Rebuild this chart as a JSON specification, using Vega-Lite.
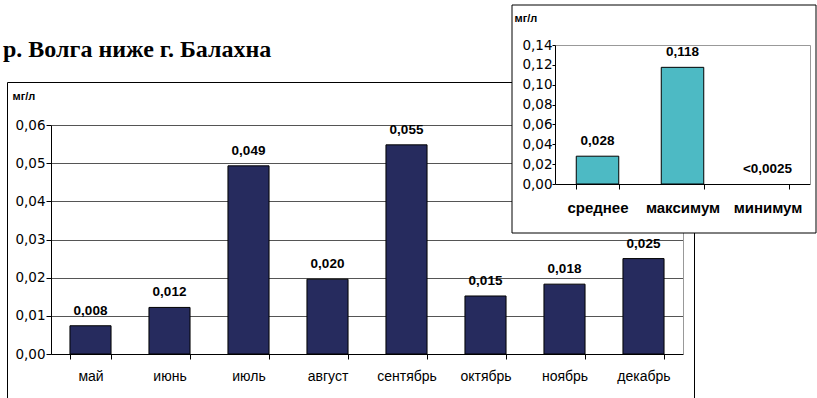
{
  "$schema": "https://vega.github.io/schema/vega-lite/v6.json",
  "background": "white",
  "autosize": {"type": "none"},
  "padding": {"left": 7, "top": 82, "right": 123, "bottom": 0},
  "width": 687,
  "height": 320,
  "config": {
    "locale": {"number": {"decimal": ",", "thousands": " ", "grouping": [3], "currency": ["", ""]}},
    "view": {"stroke": "black", "strokeWidth": 1, "fill": "white"},
    "axis": {"labelColor": "black", "titleColor": "black", "domainColor": "black", "tickColor": "black", "labelFont": "Liberation Sans", "titleFont": "Liberation Sans"}
  },
  "title": {
    "text": "р. Волга ниже г. Балахна",
    "anchor": "start",
    "frame": "group",
    "font": "Liberation Serif",
    "fontSize": 24,
    "fontWeight": "bold",
    "color": "black",
    "baseline": "alphabetic",
    "offset": -76,
    "dx": -4
  },
  "datasets": {
    "months": [
      {"month": "май", "value": 0.0074, "label": "0,008"},
      {"month": "июнь", "value": 0.0122, "label": "0,012"},
      {"month": "июль", "value": 0.0493, "label": "0,049"},
      {"month": "август", "value": 0.0196, "label": "0,020"},
      {"month": "сентябрь", "value": 0.0548, "label": "0,055"},
      {"month": "октябрь", "value": 0.0152, "label": "0,015"},
      {"month": "ноябрь", "value": 0.0183, "label": "0,018"},
      {"month": "декабрь", "value": 0.025, "label": "0,025"}
    ],
    "stats": [
      {"stat": "среднее", "value": 0.028, "label": "0,028"},
      {"stat": "максимум", "value": 0.1175, "label": "0,118"},
      {"stat": "минимум", "value": 0, "label": "<0,0025"}
    ],
    "panel": [
      {"panel": "среднее, максимум, минимум"}
    ]
  },
  "layer": [
    {
      "data": {"name": "months"},
      "mark": {"type": "bar", "fill": "#262B5E", "stroke": "black", "strokeWidth": 1},
      "encoding": {
        "x": {
          "field": "month", "type": "nominal", "sort": null,
          "scale": {"range": [44, 676], "paddingInner": 0.48, "paddingOuter": 0.24},
          "axis": {
            "orient": "bottom", "offset": -48, "title": null, "labelAngle": 0,
            "tickSize": 5, "tickBand": "extent", "labelFontSize": 14, "labelPadding": 10,
            "grid": false
          }
        },
        "y": {
          "field": "value", "type": "quantitative",
          "scale": {"domain": [0, 0.06], "range": [272, 43], "nice": false, "zero": true},
          "axis": {
            "orient": "left", "offset": -44,
            "values": [0, 0.01, 0.02, 0.03, 0.04, 0.05, 0.06],
            "format": ".2f", "tickSize": 5, "labelFont": "DejaVu Sans", "labelFontSize": 13.5, "labelPadding": 1,
            "grid": true, "gridColor": "#555", "gridWidth": 1,
            "title": "мг/л", "titleAngle": 0, "titleX": -39, "titleY": 14,
            "titleAlign": "left", "titleBaseline": "middle",
            "titleFontSize": 11, "titleFontWeight": "bold"
          }
        }
      }
    },
    {
      "data": {"name": "months"},
      "mark": {"type": "text", "font": "Liberation Sans", "fontWeight": "bold", "fontSize": 13.5, "baseline": "alphabetic", "dy": -11, "color": "black"},
      "encoding": {
        "x": {
          "field": "month", "type": "nominal", "sort": null,
          "scale": {"range": [44, 676], "paddingInner": 0.48, "paddingOuter": 0.24},
          "axis": null
        },
        "y": {
          "field": "value", "type": "quantitative",
          "scale": {"domain": [0, 0.06], "range": [272, 43], "nice": false, "zero": true},
          "axis": {"orient": "right", "offset": -11, "domainColor": "#999", "ticks": false, "labels": false, "grid": false, "title": null}
        },
        "text": {"field": "label"}
      }
    },
    {
      "data": {"name": "panel"},
      "mark": {"type": "rect", "fill": "white", "stroke": "black", "strokeWidth": 1},
      "encoding": {
        "x": {"datum": 0, "type": "quantitative", "scale": {"domain": [0, 1], "range": [505, 809], "nice": false, "zero": false}, "axis": null},
        "x2": {"datum": 1},
        "y": {"datum": 0, "type": "quantitative", "scale": {"domain": [0, 1], "range": [151, -77], "nice": false, "zero": false}, "axis": null},
        "y2": {"datum": 1}
      }
    },
    {
      "data": {"name": "stats"},
      "transform": [{"filter": "datum.value > 0"}],
      "mark": {"type": "bar", "fill": "#4DBAC4", "stroke": "black", "strokeWidth": 1},
      "encoding": {
        "x": {
          "field": "stat", "type": "nominal", "sort": null,
          "scale": {"domain": ["среднее", "максимум", "минимум"], "range": [548, 803], "paddingInner": 0.5, "paddingOuter": 0.25},
          "axis": {
            "orient": "bottom", "offset": -218, "zindex": 1, "title": null, "labelAngle": 0,
            "tickSize": 5, "tickBand": "extent", "labelFontSize": 15, "labelFontWeight": "bold",
            "labelPadding": 11, "grid": false
          }
        },
        "y": {
          "field": "value", "type": "quantitative",
          "scale": {"domain": [0, 0.14], "range": [102, -37], "nice": false, "zero": true},
          "axis": {
            "orient": "left", "offset": -548, "zindex": 1,
            "values": [0, 0.02, 0.04, 0.06, 0.08, 0.1, 0.12, 0.14],
            "format": ".2f", "tickSize": 3, "labelFont": "DejaVu Sans", "labelFontSize": 13.5, "labelPadding": 0,
            "grid": false,
            "title": "мг/л", "titleAngle": 0, "titleX": -41, "titleY": -64,
            "titleAlign": "left", "titleBaseline": "middle",
            "titleFontSize": 11, "titleFontWeight": "bold"
          }
        }
      }
    },
    {
      "data": {"name": "stats"},
      "mark": {"type": "text", "font": "Liberation Sans", "fontWeight": "bold", "fontSize": 13.5, "baseline": "alphabetic", "dy": -11, "color": "black"},
      "encoding": {
        "x": {
          "field": "stat", "type": "nominal", "sort": null,
          "scale": {"domain": ["среднее", "максимум", "минимум"], "range": [548, 803], "paddingInner": 0.5, "paddingOuter": 0.25},
          "axis": {"orient": "top", "offset": 37, "zindex": 1, "domainColor": "#999", "ticks": false, "labels": false, "grid": false, "title": null}
        },
        "y": {
          "field": "value", "type": "quantitative",
          "scale": {"domain": [0, 0.14], "range": [102, -37], "nice": false, "zero": true},
          "axis": {"orient": "right", "offset": 116, "zindex": 1, "domainColor": "#999", "ticks": false, "labels": false, "grid": false, "title": null}
        },
        "text": {"field": "label"}
      }
    }
  ],
  "resolve": {
    "scale": {"x": "independent", "y": "independent"},
    "axis": {"x": "independent", "y": "independent"}
  }
}
